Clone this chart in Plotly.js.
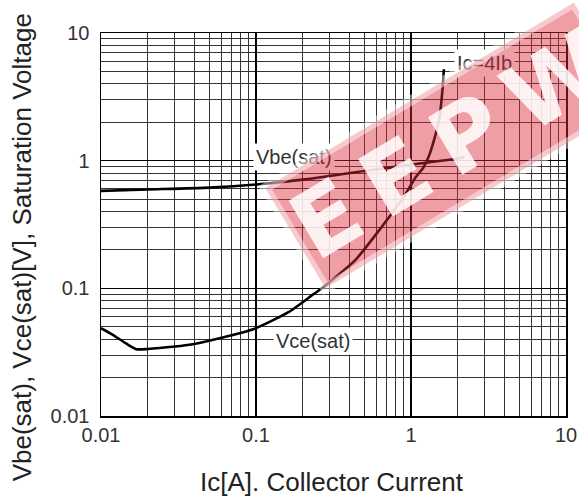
<!DOCTYPE html>
<html>
<head>
<meta charset="utf-8">
<script src="https://cdn.plot.ly/plotly-3.0.1.min.js"></script>
<style>html,body{margin:0;padding:0;background:#fff;}#chart{width:579px;height:498px;}</style>
</head>
<body>
<div id="chart"></div>
<script>
// Collector current Ic [A]
var vbeIc  = [0.01, 0.02, 0.05, 0.1, 0.2, 0.5, 1, 2, 2.2];
var vbeSat = [0.58, 0.595, 0.615, 0.65, 0.71, 0.83, 0.93, 1.04, 1.07];

var vceIc  = [0.01, 0.012, 0.0145, 0.0169, 0.02, 0.03, 0.039, 0.06, 0.096, 0.162, 0.235, 0.266, 0.44, 0.65, 0.875, 1.08, 1.2, 1.31, 1.45, 1.52, 1.59, 1.63];
var vceSat = [0.0487, 0.043, 0.037, 0.0334, 0.0335, 0.035, 0.0365, 0.041, 0.0478, 0.065, 0.09, 0.1, 0.168, 0.305, 0.496, 0.75, 0.88, 1.1, 1.65, 2.1, 3.4, 5.2];

var majorTicks = [0.01, 0.1, 1, 10];
var majorText  = ['0.01', '0.1', '1', '10'];
var minorTicks = [0.02,0.03,0.04,0.05,0.06,0.07,0.08,0.09,0.2,0.3,0.4,0.5,0.6,0.7,0.8,0.9,2,3,4,5,6,7,8,9];

var labelVbe = {text: 'Vbe(sat)', x: 0.177, y: 1.07};
var labelIc  = {text: 'Ic=4Ib',  x: 3.0,   y: 5.8};
var labelVce = {text: 'Vce(sat)', x: 0.232, y: 0.0385};

var xTitle = 'Ic[A]. Collector Current';
var yTitle = 'Vbe(sat), Vce(sat)[V], Saturation Voltage';
var watermark = 'E\u2009E\u2009P\u2009W';

var FONT = 'Liberation Sans, Arial, sans-serif';

function axis(){
  return {
    type: 'log',
    range: [-2, 1],
    tickmode: 'array',
    tickvals: majorTicks,
    ticktext: majorText,
    ticks: '',
    showgrid: true,
    gridcolor: '#000',
    gridwidth: 1.2,
    minor: {tickmode: 'array', tickvals: minorTicks, showgrid: true, gridcolor: '#333', gridwidth: 1, ticks: ''},
    showline: true,
    linecolor: '#000',
    linewidth: 1.5,
    mirror: true,
    zeroline: false,
    tickfont: {family: FONT, size: 20, color: '#333'},
    fixedrange: true
  };
}

var traces = [
  {x: vbeIc, y: vbeSat, mode: 'lines', line: {color: '#000', width: 2.6, shape: 'spline', smoothing: 0.6}, hoverinfo: 'skip'},
  {x: vceIc, y: vceSat, mode: 'lines', line: {color: '#000', width: 2.6, shape: 'spline', smoothing: 0.6}, hoverinfo: 'skip'}
];

function lbl(o){
  return {xref: 'x', yref: 'y', x: Math.log10(o.x), y: Math.log10(o.y), text: o.text, showarrow: false,
          font: {family: FONT, size: 20, color: '#333'}, bgcolor: '#fff', borderpad: 2,
          xanchor: 'center', yanchor: 'middle'};
}

var xax = axis(), yax = axis();
yax.ticklabelstandoff = 6;

var layout = {
  width: 579, height: 498,
  margin: {l: 101, r: 13, t: 33, b: 82},
  paper_bgcolor: '#fff', plot_bgcolor: '#fff',
  showlegend: false,
  xaxis: xax,
  yaxis: yax,
  annotations: [
    lbl(labelVbe), lbl(labelIc), lbl(labelVce),
    {xref: 'paper', yref: 'paper', x: 0.497, y: -0.172, text: xTitle, showarrow: false,
     font: {family: FONT, size: 26, color: '#222'}, xanchor: 'center', yanchor: 'middle'},
    {xref: 'paper', yref: 'paper', x: -0.168, y: 0.44, text: yTitle, showarrow: false, textangle: -90,
     font: {family: FONT, size: 26, color: '#222'}, xanchor: 'center', yanchor: 'middle'},
    {xref: 'paper', yref: 'paper', x: 0.75, y: 0.705, text: '<b>' + watermark + '</b>', showarrow: false, textangle: -31,
     font: {family: 'DejaVu Sans, sans-serif', size: 92, color: 'rgba(255,255,255,0.85)'},
     bgcolor: 'rgba(220,40,55,0.45)', bordercolor: 'rgba(255,255,255,0.45)', borderwidth: 10, borderpad: 0,
     xanchor: 'center', yanchor: 'middle'}
  ]
};

Plotly.newPlot('chart', traces, layout, {displayModeBar: false, staticPlot: true});
</script>
</body>
</html>
